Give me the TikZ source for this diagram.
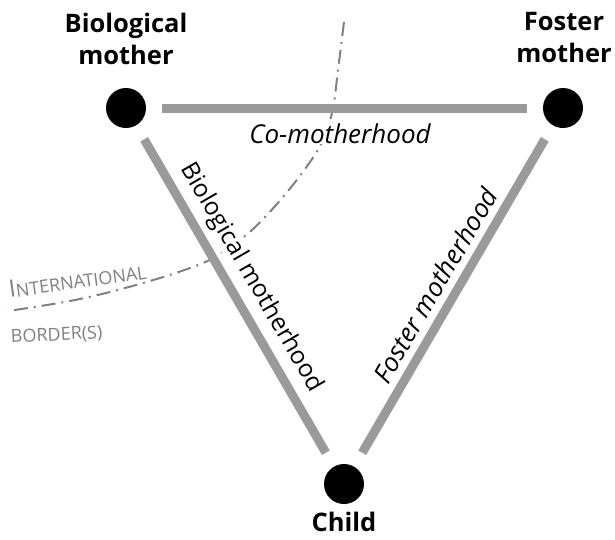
\documentclass[tikz,border=0pt]{standalone}
\usepackage{fontspec}
\setmainfont{Open Sans}
\definecolor{linegray}{HTML}{9A9A9A}
\definecolor{bordergray}{HTML}{808080}
\begin{document}
\begin{tikzpicture}[x=1pt,y=-1pt,
  dot/.style={circle, fill=black, minimum size=40pt, inner sep=0pt},
  link/.style={line width=9pt, draw=linegray, shorten <=16pt, shorten >=16pt},
  role/.style={font=\fontsize{25.5}{32}\selectfont\bfseries, align=center, inner sep=0pt},
  relit/.style={font=\fontsize{26}{26}\selectfont\itshape, inner sep=1pt},
  relup/.style={font=\fontsize{24.5}{24.5}\selectfont, inner sep=1pt},
  borderline/.style={draw=bordergray, line width=2pt, dash pattern=on 14pt off 6pt on 2pt off 6pt},
  bordertext/.style={text=bordergray, inner sep=0pt, anchor=base west}]
\useasboundingbox (0,0) rectangle (615,539);
% international border
\draw[borderline] plot[smooth, tension=0.6] coordinates {(344,22) (338,70) (333,108) (324,138) (310,162) (283,197) (252,230) (225,250) (203,263) (150,281) (80,299) (8,311)};
\node[bordertext, rotate=8] (intl) at (10,298) {{\fontsize{24}{24}\selectfont I}{\fontsize{18}{18}\selectfont NTERNATIONAL}};
\node[bordertext, rotate=3] (bord) at (11,343) {\fontsize{18}{18}\selectfont BORDER(S)};
% persons
\node[dot] (bio) at (126,108) {};
\node[dot] (fos) at (563,108) {};
\node[dot] (child) at (344,484) {};
\node[role, anchor=north] (biolab) at (126,12.5) {Biological\\mother};
\node[role, anchor=north] (foslab) at (564,12.5) {Foster\\mother};
\node[role, anchor=north] (childlab) at (344,512) {Child};
% relations
\draw[link] (bio) -- (fos);
\draw[link] (bio) -- (child);
\draw[link] (child) -- (fos);
\node[relit, anchor=base, fill=white] (comoth) at (340,143) {Co-motherhood};
\path (bio) -- (child) node[relup, pos=0.481, sloped, above=10pt, fill=white] (biomoth) {Biological motherhood};
\path (child) -- (fos) node[relit, pos=0.5, sloped, above=10pt] (fosmoth) {Foster motherhood};
\end{tikzpicture}
\end{document}
